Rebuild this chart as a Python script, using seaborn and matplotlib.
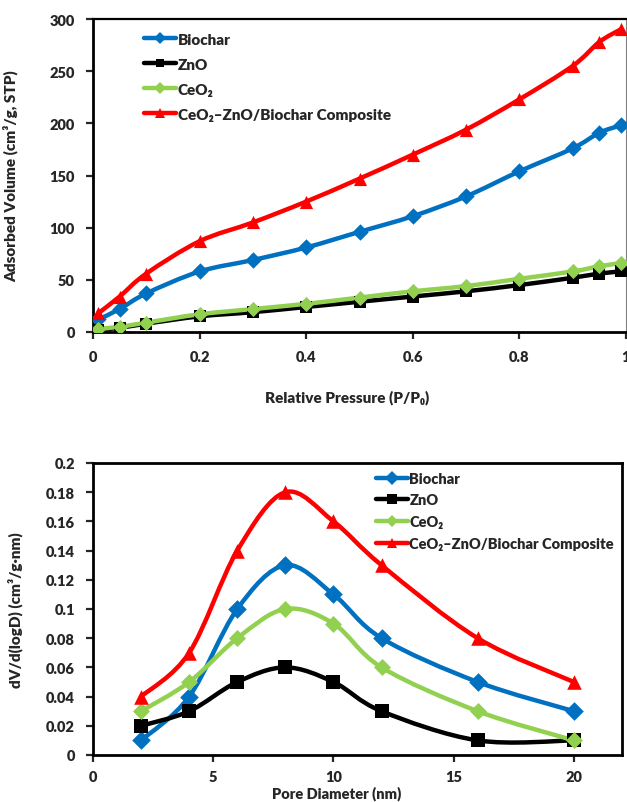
import numpy as np
import pandas as pd
import matplotlib
matplotlib.use("Agg")
import matplotlib.pyplot as plt
from matplotlib.path import Path
from matplotlib.patches import PathPatch
from matplotlib.lines import Line2D
import seaborn as sns

# ---- N2 adsorption isotherms ----
pressure = [0.01, 0.05, 0.1, 0.2, 0.3, 0.4, 0.5, 0.6, 0.7, 0.8, 0.9, 0.95, 0.99]
iso_biochar = [12, 22, 37, 58, 69, 81, 96, 111, 130, 154, 176, 191, 198]
iso_zno = [2, 4, 8, 15, 19, 24, 29, 34, 39, 45, 52, 56, 58]
iso_ceo2 = [3, 5, 9, 17, 22, 27, 33, 39, 44, 51, 58, 63, 66]
iso_composite = [18, 34, 56, 87, 105, 125, 147, 170, 194, 223, 255, 278, 290]

# ---- BJH pore size distribution ----
pore_d = [2, 4, 6, 8, 10, 12, 16, 20]
psd_biochar = [0.01, 0.04, 0.10, 0.13, 0.11, 0.08, 0.05, 0.03]
psd_zno = [0.02, 0.03, 0.05, 0.06, 0.05, 0.03, 0.01, 0.01]
psd_ceo2 = [0.03, 0.05, 0.08, 0.10, 0.09, 0.06, 0.03, 0.01]
psd_composite = [0.04, 0.07, 0.14, 0.18, 0.16, 0.13, 0.08, 0.05]

names = ["Biochar", "ZnO", "CeO\u2082", "CeO\u2082\u2013ZnO/Biochar Composite"]
colors = ["#0070C0", "#000000", "#92D050", "#FF0000"]
markers = ["D", "s", "D", "^"]

W = "heavy"
sns.set_style("ticks")
plt.rcParams["font.family"] = ["Lato", "DejaVu Sans"]
plt.rcParams["font.weight"] = W
plt.rcParams["axes.labelweight"] = W


def smooth_path(x, y):
    """Cubic Bezier path through the points (spreadsheet-style smoothed line)."""
    P = np.column_stack([x, y]).astype(float)
    n = len(P)
    verts = [P[0]]
    codes = [Path.MOVETO]
    for i in range(n - 1):
        p0 = P[i - 1] if i > 0 else P[i]
        p1, p2 = P[i], P[i + 1]
        p3 = P[i + 2] if i + 2 < n else P[i + 1]
        verts += [p1 + (p2 - p0) / 6, p2 - (p3 - p1) / 6, p2]
        codes += [Path.CURVE4] * 3
    return Path(verts, codes)


def draw_panel(ax, x, series, msizes):
    for ys, name, c, m, ms in zip(series, names, colors, markers, msizes):
        ax.add_patch(PathPatch(smooth_path(x, ys), facecolor="none", edgecolor=c,
                               lw=3.2, transform=ax.transData, zorder=2,
                               capstyle="round", joinstyle="round"))
        df = pd.DataFrame({"x": x, "y": ys})
        sns.scatterplot(data=df, x="x", y="y", ax=ax, marker=m, s=ms, color=c,
                        edgecolor=c, linewidth=0, zorder=3, legend=False)
    handles = [Line2D([0], [0], color=c, lw=3.2, marker=m, markersize=np.sqrt(ms) * 0.75,
                      markeredgewidth=0)
               for c, m, ms in zip(colors, markers, msizes)]
    return handles


def style_axes(ax):
    for side in ["left", "bottom", "top", "right"]:
        ax.spines[side].set_visible(True)
        ax.spines[side].set_color("black")
    ax.spines["left"].set_linewidth(2.0)
    ax.spines["bottom"].set_linewidth(2.0)
    ax.tick_params(axis="both", direction="out", length=5, width=1.6,
                   labelsize=10.5, pad=8)
    for lab in ax.get_xticklabels() + ax.get_yticklabels():
        lab.set_fontweight(W)


fig = plt.figure(figsize=(6.27, 8.03), dpi=100)

# ---- top panel ----
ax1 = fig.add_axes([93 / 627, 1 - 333 / 803, 533 / 627, 313 / 803])
h1 = draw_panel(ax1, pressure, [iso_biochar, iso_zno, iso_ceo2, iso_composite],
                [70, 70, 60, 90])
ax1.set_xlim(0, 1)
ax1.set_ylim(0, 300)
ax1.set_xticks([0, 0.2, 0.4, 0.6, 0.8, 1.0])
ax1.set_xticklabels(["0", "0.2", "0.4", "0.6", "0.8", "1"])
ax1.set_yticks(range(0, 301, 50))
style_axes(ax1)
ax1.spines["top"].set_linewidth(1.6)
ax1.spines["right"].set_linewidth(0.8)
ax1.spines["right"].set_color("#808080")
ax1.set_xlabel("Relative Pressure (P/P\u2080)", fontsize=11, fontweight=W)
ax1.set_ylabel("Adsorbed Volume (cm\u00b3/g, STP)", fontsize=11, fontweight=W)
ax1.xaxis.set_label_coords(0.477, -0.185)
ax1.yaxis.set_label_coords(-0.14, 0.5)
ax1.legend(h1, names, loc="upper left", bbox_to_anchor=(0.07, 1.0), frameon=False,
           handlelength=2.1, handletextpad=0.1, labelspacing=0.78,
           prop={"weight": W, "size": 11})

# ---- bottom panel ----
ax2 = fig.add_axes([93 / 627, 1 - 756 / 803, 529 / 627, 292 / 803])
h2 = draw_panel(ax2, pore_d, [psd_biochar, psd_zno, psd_ceo2, psd_composite],
                [90, 110, 75, 110])
ax2.set_xlim(0, 22)
ax2.set_ylim(0, 0.2)
ax2.set_xticks([0, 5, 10, 15, 20])
yt = [0, 0.02, 0.04, 0.06, 0.08, 0.1, 0.12, 0.14, 0.16, 0.18, 0.2]
ax2.set_yticks(yt)
ax2.set_yticklabels([f"{v:g}" for v in yt])
style_axes(ax2)
ax2.tick_params(axis="x", pad=6)
ax2.spines["top"].set_linewidth(2.0)
ax2.spines["right"].set_linewidth(2.0)
ax2.set_xlabel("Pore Diameter (nm)", fontsize=10.5, fontweight=W)
ax2.set_ylabel("dV/d(logD) (cm\u00b3/g\u00b7nm)", fontsize=11, fontweight=W)
ax2.xaxis.set_label_coords(0.461, -0.104)
ax2.yaxis.set_label_coords(-0.133, 0.5)
ax2.legend(h2, names, loc="upper left", bbox_to_anchor=(0.51, 1.015), frameon=False,
           handlelength=2.2, handletextpad=0.1, labelspacing=0.6,
           prop={"weight": W, "size": 10.5})

fig.savefig("out.png", dpi=100)
